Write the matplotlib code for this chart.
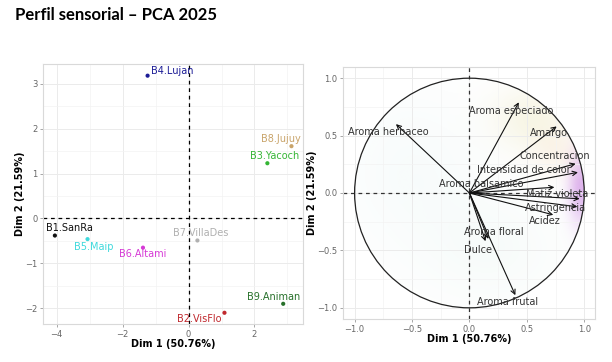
import numpy as np
import matplotlib
matplotlib.use("Agg")
import matplotlib.pyplot as plt
from matplotlib.patches import Circle

# ---------------- data ----------------
title = "Perfil sensorial – PCA 2025"
xlab = "Dim 1 (50.76%)"
ylab = "Dim 2 (21.59%)"

ind_names = ["B1.SanRa", "B2.VisFlo", "B3.Yacoch", "B4.Lujan", "B5.Maip",
             "B6.Altami", "B7.VillaDes", "B8.Jujuy", "B9.Animan"]
ind_x = [-4.05, 1.09, 2.39, -1.24, -3.06, -1.38, 0.27, 3.12, 2.87]
ind_y = [-0.38, -2.10, 1.23, 3.18, -0.46, -0.65, -0.49, 1.61, -1.90]
ind_colors = ["#111111", "#c0282d", "#34b534", "#1c1c96", "#3fd9dc",
              "#d63ad6", "#b0b0b0", "#c9a46a", "#27702a"]
ind_lab_x = [-3.62, 0.32, 2.61, -0.49, -2.86, -1.39, 0.37, 2.79, 2.59]
ind_lab_y = [-0.22, -2.23, 1.39, 3.29, -0.63, -0.80, -0.33, 1.76, -1.75]

var_names = ["Aroma herbaceo", "Aroma especiado", "Amargo", "Concentracion",
             "Intensidad de color", "Aroma balsamico", "Matiz violeta",
             "Astringencia", "Acidez", "Aroma floral", "Dulce", "Aroma frutal"]
var_x = [-0.64, 0.43, 0.76, 0.925, 0.945, 0.74, 0.96, 0.94, 0.73, 0.165, 0.14, 0.40]
var_y = [0.60, 0.79, 0.58, 0.255, 0.18, 0.05, -0.05, -0.12, -0.19, -0.40, -0.42, -0.89]
var_lab_x = [-0.71, 0.0, 0.69, 0.74, 0.47, 0.107, 0.765, 0.75, 0.66, 0.21, 0.075, 0.33]
var_lab_y = [0.53, 0.715, 0.52, 0.32, 0.20, 0.075, -0.01, -0.13, -0.245, -0.34, -0.50, -0.95]
var_lab_ha = ["center", "left", "center", "center", "center", "center",
              "center", "center", "center", "center", "center", "center"]

# ---------------- figure ----------------
W, H = 612, 362
fig = plt.figure(figsize=(W / 100, H / 100), dpi=100)
fig.patch.set_facecolor("white")

fig.text(15 / W, 1 - 15 / H, title, fontsize=12, fontweight="bold",
         family=["Lato", "DejaVu Sans"], ha="left", va="center")

grid_col = "#ebebeb"
tick_col = "#666666"


def style(ax):
    for s in ax.spines.values():
        s.set_color("#d9d9d9")
        s.set_linewidth(0.8)
    ax.tick_params(axis="both", labelsize=6, colors="#999999", labelcolor=tick_col,
                   length=2, width=0.6, pad=2)
    ax.grid(True, which="major", color=grid_col, lw=0.7)
    ax.grid(True, which="minor", color="#f3f3f3", lw=0.5)
    ax.tick_params(which="minor", length=0)
    ax.set_axisbelow(True)


# ---- left: individuals ----
axL = fig.add_axes([43 / W, 1 - 324 / H, 260 / W, 260 / H])
style(axL)
axL.set_xlim(-4.41, 3.47)
axL.set_ylim(-2.35, 3.44)
axL.set_xticks([-4, -2, 0, 2])
axL.set_xticks([-3, -1, 1, 3], minor=True)
axL.set_yticks([-2, -1, 0, 1, 2, 3])
axL.set_yticks([-1.5, -0.5, 0.5, 1.5, 2.5], minor=True)
axL.axhline(0, color="black", ls=(0, (3, 3)), lw=0.9)
axL.axvline(0, color="black", ls=(0, (3, 3)), lw=0.9)
axL.scatter(ind_x, ind_y, s=9, c=ind_colors, zorder=3, linewidths=0)
for n, lx, ly, c in zip(ind_names, ind_lab_x, ind_lab_y, ind_colors):
    axL.text(lx, ly, n, color=c, fontsize=7, ha="center", va="center", zorder=4)
axL.set_xlabel(xlab, fontsize=7, fontweight="bold", labelpad=0)
axL.set_ylabel(ylab, fontsize=7, fontweight="bold", labelpad=0)

# ---- right: variables ----
axR = fig.add_axes([342.7 / W, 1 - 319.3 / H, 252.3 / W, 252.6 / H])
style(axR)
axR.set_xlim(-1.10, 1.09)
axR.set_ylim(-1.10, 1.10)
axR.set_xticks([-1.0, -0.5, 0.0, 0.5, 1.0])
axR.set_xticks([-0.75, -0.25, 0.25, 0.75], minor=True)
axR.set_yticks([-1.0, -0.5, 0.0, 0.5, 1.0])
axR.set_yticks([-0.75, -0.25, 0.25, 0.75], minor=True)

# soft colour haze inside the circle (decorative background)
gx, gy = np.meshgrid(np.linspace(-1, 1, 300), np.linspace(-1, 1, 300))
inside = gx ** 2 + gy ** 2 <= 1
img = np.ones((300, 300, 4))
img[..., 3] = 0.0
blobs = [((0.97, 0.05), (0.08, 0.22), (0.72, 0.35, 0.85), 0.45),
         ((0.55, 0.65), (0.25, 0.20), (0.85, 0.80, 0.45), 0.18),
         ((0.75, 0.35), (0.15, 0.15), (0.95, 0.75, 0.55), 0.14),
         ((-0.5, 0.2), (0.45, 0.5), (0.55, 0.80, 0.80), 0.06),
         ((0.2, -0.5), (0.45, 0.35), (0.55, 0.80, 0.70), 0.06)]
for (cx, cy), (sx, sy), col, a in blobs:
    w = a * np.exp(-(((gx - cx) / sx) ** 2 + ((gy - cy) / sy) ** 2) / 2)
    w = np.where(inside, w, 0)
    tot = img[..., 3] + w * (1 - img[..., 3])
    for k in range(3):
        img[..., k] = np.where(tot > 0,
                               (img[..., k] * img[..., 3] * (1 - w) + col[k] * w) / np.maximum(tot, 1e-9),
                               img[..., k])
    img[..., 3] = tot
axR.imshow(img, extent=(-1, 1, -1, 1), origin="lower", zorder=0.5, interpolation="bilinear")

axR.add_patch(Circle((0, 0), 1, fill=False, color="#222222", lw=0.9, zorder=2))
axR.axhline(0, color="#333333", ls=(0, (3, 3)), lw=0.9, zorder=1.5)
axR.axvline(0, color="#333333", ls=(0, (3, 3)), lw=0.9, zorder=1.5)
for vx, vy in zip(var_x, var_y):
    axR.annotate("", xy=(vx, vy), xytext=(0, 0), zorder=3,
                 arrowprops=dict(arrowstyle="->", color="#111111", lw=0.8,
                                 shrinkA=0, shrinkB=0, mutation_scale=8))
for n, lx, ly, ha in zip(var_names, var_lab_x, var_lab_y, var_lab_ha):
    axR.text(lx, ly, n, color="#333333", fontsize=7, ha=ha, va="center", zorder=4)
axR.set_xlabel(xlab, fontsize=7, fontweight="bold", labelpad=0)
axR.set_ylabel(ylab, fontsize=7, fontweight="bold", labelpad=0)

fig.savefig("out.png", dpi=100, facecolor="white")
